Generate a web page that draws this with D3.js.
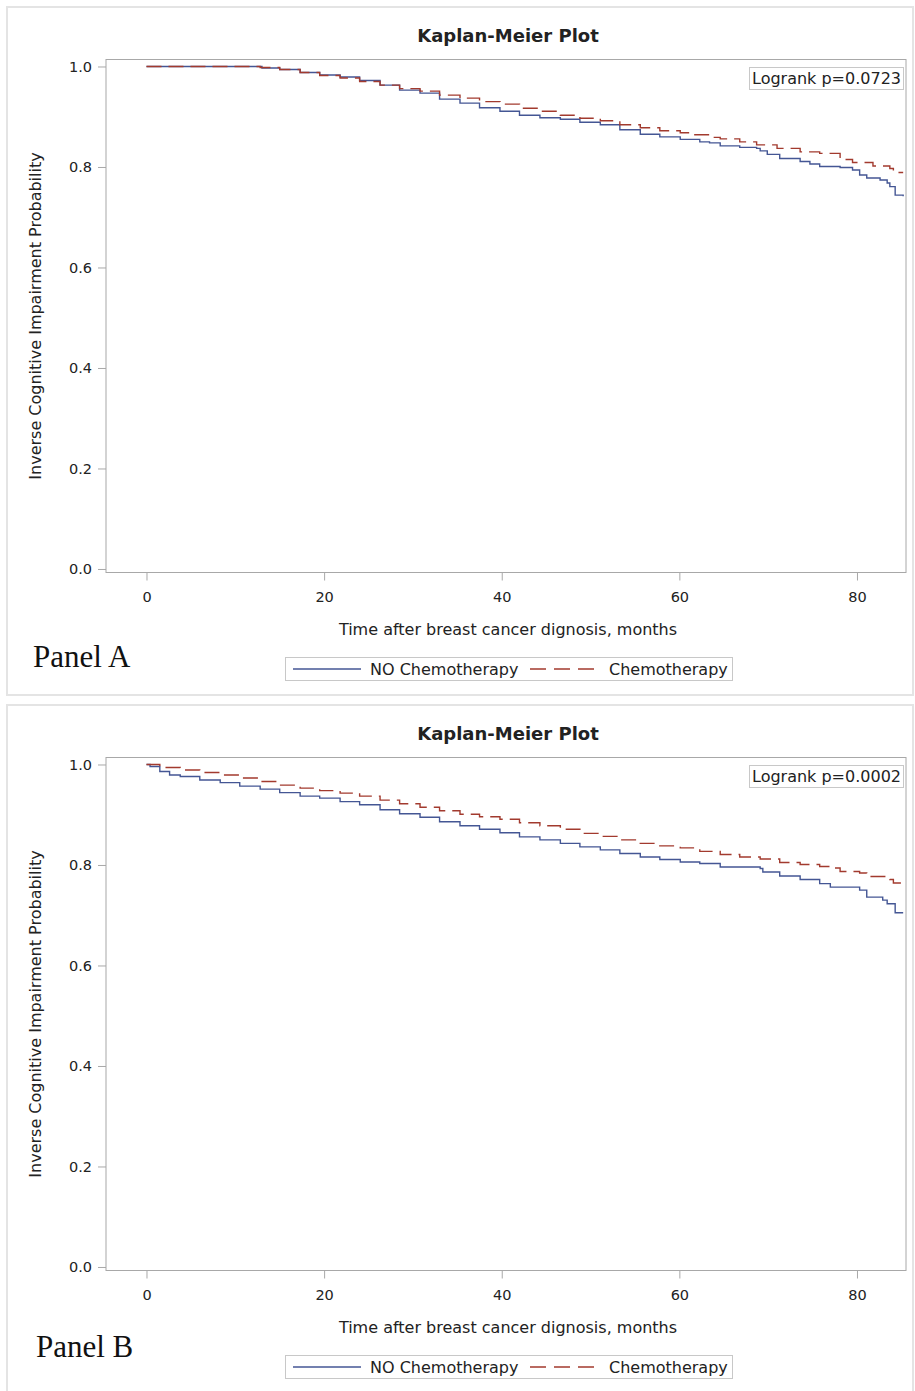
<!DOCTYPE html>
<html><head><meta charset="utf-8">
<script src="https://cdn.jsdelivr.net/npm/d3@7"></script>
<style>
html,body{margin:0;padding:0;background:#fff;}
svg{display:block;}
text{font-family:"DejaVu Sans",sans-serif;fill:#222;}
text.plabel{font-family:"Liberation Serif","Times New Roman",serif;fill:#111;}
</style></head>
<body>
<svg id="c" width="915" height="1391"></svg>
<script>
// ---- Data ----
const seriesNames = ["NO Chemotherapy", "Chemotherapy"];
const xTicks = [0, 20, 40, 60, 80];
const yTicks = [0.0, 0.2, 0.4, 0.6, 0.8, 1.0];
const panelLabels = ["Panel A", "Panel B"];
const pValues = ["Logrank p=0.0723", "Logrank p=0.0002"];

// Panel A, NO Chemotherapy
const aNoTime = [0, 13.0, 15.0, 17.3, 19.5, 21.8, 24.0, 26.3, 28.5, 30.8, 33.0, 35.3, 37.5, 39.8, 42.0, 44.3, 46.6, 48.8, 51.1, 53.3, 55.6, 57.8, 60.1, 62.3, 63.4, 64.6, 66.8, 68.7, 69.1, 69.9, 71.3, 73.6, 74.7, 75.8, 78.1, 79.5, 80.3, 81.1, 82.6, 83.4, 83.7, 84.3, 85.2];
const aNoSurv = [1.0, 0.997, 0.994, 0.988, 0.983, 0.979, 0.972, 0.963, 0.953, 0.947, 0.935, 0.927, 0.918, 0.911, 0.903, 0.898, 0.895, 0.889, 0.884, 0.874, 0.865, 0.860, 0.855, 0.850, 0.848, 0.842, 0.839, 0.837, 0.832, 0.825, 0.817, 0.811, 0.806, 0.801, 0.799, 0.794, 0.784, 0.778, 0.774, 0.768, 0.761, 0.744, 0.742];
// Panel A, Chemotherapy
const aChTime = [0, 12.8, 15.0, 17.3, 19.5, 21.8, 24.0, 26.3, 28.5, 30.8, 33.0, 35.3, 37.5, 39.8, 42.0, 44.3, 46.6, 48.8, 51.1, 53.3, 55.6, 57.8, 60.1, 61.2, 63.4, 64.6, 66.8, 68.7, 71.0, 73.6, 75.8, 78.1, 79.5, 81.8, 83.7, 84.1, 85.2];
const aChSurv = [1.0, 0.998, 0.994, 0.988, 0.982, 0.977, 0.970, 0.963, 0.956, 0.951, 0.943, 0.937, 0.930, 0.925, 0.917, 0.911, 0.903, 0.897, 0.892, 0.884, 0.878, 0.872, 0.868, 0.864, 0.859, 0.856, 0.850, 0.844, 0.837, 0.830, 0.827, 0.815, 0.809, 0.802, 0.797, 0.789, 0.789];
// Panel B, NO Chemotherapy
const bNoTime = [0, 0.4, 1.5, 2.6, 3.8, 6.0, 8.3, 10.5, 12.8, 15.0, 17.3, 19.5, 21.8, 24.0, 26.3, 28.5, 30.8, 33.0, 35.3, 37.5, 39.8, 42.0, 44.3, 46.6, 48.8, 51.1, 53.3, 55.6, 57.8, 60.1, 62.3, 64.6, 69.1, 69.4, 71.3, 73.6, 75.8, 77.0, 80.3, 81.1, 82.9, 83.4, 84.3, 85.2];
const bNoSurv = [1.0, 0.996, 0.986, 0.979, 0.976, 0.969, 0.964, 0.957, 0.951, 0.944, 0.937, 0.933, 0.926, 0.920, 0.910, 0.902, 0.895, 0.886, 0.878, 0.871, 0.864, 0.856, 0.850, 0.843, 0.836, 0.830, 0.823, 0.816, 0.811, 0.806, 0.803, 0.796, 0.793, 0.786, 0.778, 0.771, 0.763, 0.756, 0.750, 0.736, 0.730, 0.723, 0.705, 0.705];
// Panel B, Chemotherapy
const bChTime = [0, 1.5, 3.8, 6.0, 8.3, 10.5, 12.8, 15.0, 17.3, 19.5, 21.8, 24.0, 26.3, 28.5, 30.8, 33.0, 35.3, 37.5, 39.8, 42.0, 44.3, 46.6, 48.8, 51.1, 53.3, 55.6, 57.8, 60.1, 62.3, 64.6, 66.8, 69.1, 71.3, 73.6, 75.8, 77.3, 78.1, 80.3, 81.1, 83.7, 84.1, 85.2];
const bChSurv = [1.0, 0.994, 0.989, 0.984, 0.979, 0.973, 0.966, 0.959, 0.953, 0.948, 0.943, 0.937, 0.929, 0.922, 0.915, 0.908, 0.901, 0.896, 0.891, 0.884, 0.878, 0.871, 0.863, 0.857, 0.850, 0.843, 0.838, 0.834, 0.827, 0.821, 0.816, 0.812, 0.805, 0.801, 0.797, 0.794, 0.787, 0.784, 0.777, 0.771, 0.764, 0.763];

const colors = ["#445694", "#A23A2E"];
const dashes = [null, "15,7"];

const svg = d3.select("#c");

function zip(t, s){ return t.map((d,i)=>[d, s[i]]); }

function drawPanel(off, curves, pval, label, labelX, labelY){
  const g = svg.append("g").attr("transform", `translate(0,${off})`);
  // outer panel border
  g.append("rect").attr("x", 7).attr("y", 7).attr("width", 906).attr("height", 688)
    .attr("fill", "none").attr("stroke", "#e4e4e4").attr("stroke-width", 2);

  const x = d3.scaleLinear().domain([-4.56, 85.52]).range([106, 906]);
  const y = d3.scaleLinear().domain([-0.0070, 1.0139]).range([572.5, 59.5]);

  // frame
  g.append("rect").attr("x", x.range()[0]).attr("y", y.range()[1])
    .attr("width", x.range()[1]-x.range()[0]).attr("height", y.range()[0]-y.range()[1])
    .attr("fill", "none").attr("stroke", "#a8a8a8").attr("stroke-width", 1);

  // axes
  const xAxis = d3.axisBottom(x).tickValues(xTicks).tickSize(8).tickPadding(11).tickFormat(d3.format("d"));
  const gx = g.append("g").attr("transform", `translate(0,${y.range()[0]})`).call(xAxis);
  const yAxis = d3.axisLeft(y).tickValues(yTicks).tickSize(8).tickPadding(6).tickFormat(d3.format(".1f"));
  const gy = g.append("g").attr("transform", `translate(${x.range()[0]},0)`).call(yAxis);
  [gx, gy].forEach(a=>{
    a.select(".domain").remove();
    a.selectAll(".tick line").attr("stroke", "#a8a8a8");
    a.selectAll(".tick text").style("font-size", "14.5px").style("fill", "#222");
  });

  // title
  g.append("text").attr("x", 508).attr("y", 42).attr("text-anchor", "middle")
    .style("font-size", "18px").style("font-weight", "bold").text("Kaplan-Meier Plot");
  // axis labels
  g.append("text").attr("x", 508).attr("y", 635).attr("text-anchor", "middle")
    .style("font-size", "16px").text("Time after breast cancer dignosis, months");
  g.append("text").attr("transform", `translate(41,316) rotate(-90)`).attr("text-anchor", "middle")
    .style("font-size", "16px").text("Inverse Cognitive Impairment Probability");

  // curves
  const line = d3.line().x(d=>x(d[0])).y(d=>y(d[1])).curve(d3.curveStepAfter);
  curves.forEach((c,i)=>{
    g.append("path").datum(c).attr("d", line).attr("fill", "none")
      .attr("stroke", colors[i]).attr("stroke-width", 1.4)
      .attr("stroke-dasharray", dashes[i]);
  });

  // p-value box
  g.append("rect").attr("x", 749.5).attr("y", 67.5).attr("width", 154).attr("height", 22)
    .attr("fill", "#fff").attr("stroke", "#c8c8c8").attr("stroke-width", 1);
  g.append("text").attr("x", 826.5).attr("y", 84).attr("text-anchor", "middle")
    .style("font-size", "16px").text(pval);

  // legend
  g.append("rect").attr("x", 285.5).attr("y", 657.5).attr("width", 447).attr("height", 23)
    .attr("fill", "#fff").attr("stroke", "#c8c8c8").attr("stroke-width", 1);
  const ly = 669;
  g.append("line").attr("x1", 293).attr("x2", 361).attr("y1", ly).attr("y2", ly)
    .attr("stroke", colors[0]).attr("stroke-width", 1.4);
  g.append("text").attr("x", 370).attr("y", ly+6).style("font-size", "16px").text(seriesNames[0]);
  g.append("line").attr("x1", 530).attr("x2", 594).attr("y1", ly).attr("y2", ly)
    .attr("stroke", colors[1]).attr("stroke-width", 1.4).attr("stroke-dasharray", "16,8");
  g.append("text").attr("x", 609).attr("y", ly+6).style("font-size", "16px").text(seriesNames[1]);

  // panel label
  g.append("text").attr("class", "plabel").attr("x", labelX).attr("y", labelY)
    .style("font-size", "31px").text(label);
}

drawPanel(0, [zip(aNoTime, aNoSurv), zip(aChTime, aChSurv)], pValues[0], panelLabels[0], 33, 667);
drawPanel(698, [zip(bNoTime, bNoSurv), zip(bChTime, bChSurv)], pValues[1], panelLabels[1], 36, 659);
</script>
</body></html>
